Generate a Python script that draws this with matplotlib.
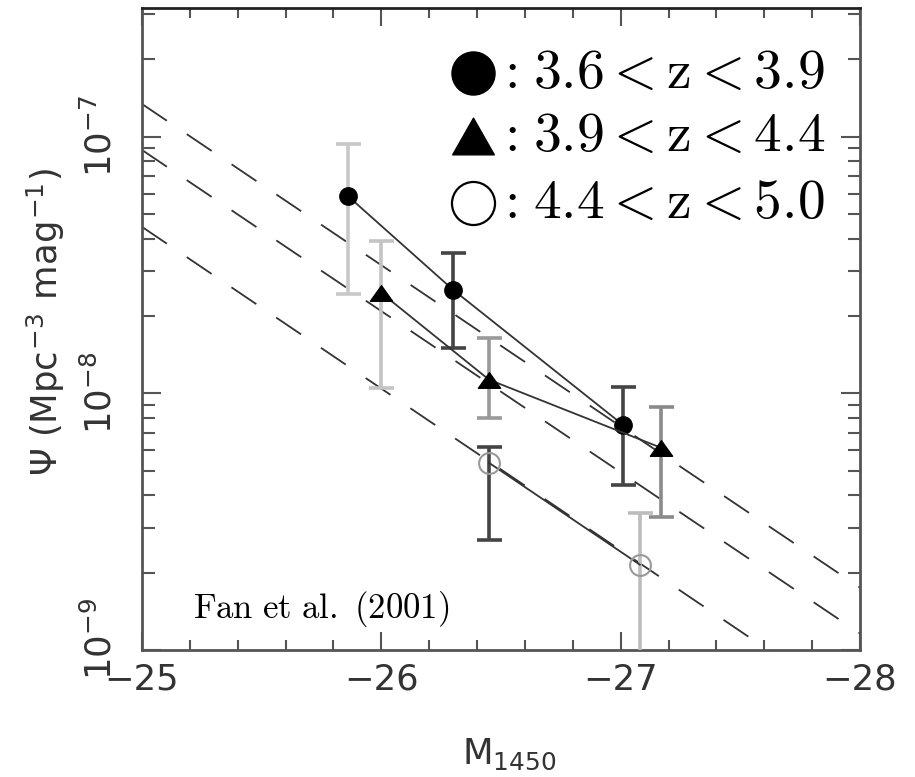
import numpy as np
import matplotlib
matplotlib.use('Agg')
import matplotlib.pyplot as plt
import matplotlib.transforms as mtransforms
from matplotlib.ticker import MultipleLocator, LogLocator, NullFormatter, FixedLocator, FixedFormatter
from matplotlib.path import Path

plt.rcParams['font.family'] = ['DejaVu Sans']
plt.rcParams['mathtext.fontset'] = 'cm'

# ---------------- data ----------------
# filled circles: 3.6 < z < 3.9
m_circ = [-25.86, -26.30, -27.01]
phi_circ = [5.87e-8, 2.53e-8, 7.53e-9]
phi_circ_hi = [9.35e-8, 3.52e-8, 1.06e-8]
phi_circ_lo = [2.44e-8, 1.50e-8, 4.40e-9]

# filled triangles: 3.9 < z < 4.4
m_tri = [-26.00, -26.45, -27.17]
phi_tri = [2.46e-8, 1.13e-8, 6.13e-9]
phi_tri_hi = [3.93e-8, 1.64e-8, 8.86e-9]
phi_tri_lo = [1.05e-8, 8.02e-9, 3.30e-9]

# open circles: 4.4 < z < 5.0
m_open = [-26.45, -27.08]
phi_open = [5.36e-9, 2.15e-9]
phi_open_hi = [6.18e-9, 3.42e-9]
phi_open_lo = [2.69e-9, 5.0e-10]

# dashed model lines (values at M = -25 and M = -28)
m_fit = [-25.0, -28.0]
fit_a = [1.34e-7, 1.75e-9]
fit_b = [8.87e-8, 1.16e-9]
fit_c = [4.45e-8, 5.73e-10]

legend_labels = [r'$3.6 < \mathrm{z} < 3.9$', r'$3.9 < \mathrm{z} < 4.4$', r'$4.4 < \mathrm{z} < 5.0$']
x_ticks = [-25, -26, -27, -28]
x_ticklabels = ['\u221225', '\u221226', '\u221227', '\u221228']
y_ticks = [1e-9, 1e-8, 1e-7]
y_ticklabels = [r'$\mathregular{10^{-9}}$', r'$\mathregular{10^{-8}}$', r'$\mathregular{10^{-7}}$']

# ---------------- figure ----------------
fig = plt.figure(figsize=(9.15, 7.77), dpi=100)
ax = fig.add_axes([142/915, 1-650/777, 718/915, 642/777])
ax.set_yscale('log')
ax.set_xlim(-25, -28)
ax.set_ylim(1e-9, 3.17e-7)

dash = (0, (16.6, 13.3))
for f in (fit_a, fit_b, fit_c):
    ax.plot(m_fit, f, color='#333333', lw=1.3, linestyle=dash, zorder=2)

def ebars(ms, ys, his, los, colors):
    for m, y, h, l, c in zip(ms, ys, his, los, colors):
        ax.errorbar([m], [y], yerr=[[y - l], [h - y]], fmt='none', ecolor=c,
                    elinewidth=2.6, capsize=9, capthick=2.6, zorder=3)

ebars(m_circ, phi_circ, phi_circ_hi, phi_circ_lo, ['#c8c8c8', '#444444', '#444444'])
ebars(m_tri, phi_tri, phi_tri_hi, phi_tri_lo, ['#c4c4c4', '#9a9a9a', '#8a8a8a'])
ebars(m_open, phi_open, phi_open_hi, phi_open_lo, ['#444444', '#bdbdbd'])

tri_marker = Path([(-1, -0.7), (1, -0.7), (0, 0.7), (-1, -0.7)],
                  [Path.MOVETO, Path.LINETO, Path.LINETO, Path.CLOSEPOLY])
ax.plot(m_circ, phi_circ, color='#333333', lw=1.3, marker='o', ms=12.5,
        mfc='black', mec='black', zorder=5)
ax.plot(m_tri, phi_tri, color='#333333', lw=1.3, marker=tri_marker, ms=16,
        mfc='black', mec='black', zorder=5)
ax.plot(m_open, phi_open, color='#333333', lw=1.3, marker='o', ms=15,
        mfc='none', mec='#999999', mew=1.5, zorder=5)

# axes styling
for s in ax.spines.values():
    s.set_color('#555555')
    s.set_linewidth(2)
ax.spines['top'].set_color('#222222')
ax.xaxis.set_major_locator(FixedLocator(x_ticks))
ax.xaxis.set_major_formatter(FixedFormatter(x_ticklabels))
ax.xaxis.set_minor_locator(MultipleLocator(0.2))
ax.yaxis.set_major_locator(FixedLocator(y_ticks))
ax.yaxis.set_major_formatter(FixedFormatter(y_ticklabels))
ax.yaxis.set_minor_locator(LogLocator(base=10, subs=np.arange(2, 10)))
ax.yaxis.set_minor_formatter(NullFormatter())
ax.tick_params(which='both', direction='in', top=True, right=True, color='#555555', width=1.5)
ax.tick_params(axis='x', which='major', length=13, labelsize=25.5, pad=9, labelcolor='#333333')
ax.tick_params(axis='x', which='minor', length=7)
ax.tick_params(axis='y', which='major', length=14, labelsize=25.5, pad=17, labelcolor='#333333',
               labelrotation=90)
ax.tick_params(axis='y', which='minor', length=9)
for lab in ax.get_yticklabels():
    lab.set_verticalalignment('center')
# nudge the bottom (10^-9) label up slightly, as in the original
bottom_lab = ax.yaxis.get_major_ticks()[0].label1
bottom_lab.set_transform(bottom_lab.get_transform() +
                         mtransforms.ScaledTranslation(0, 8/72, fig.dpi_scale_trans))

ax.set_xlabel(r'$\mathregular{M_{1450}}$', fontsize=25.5, color='#333333')
ax.xaxis.set_label_coords(0.511, -0.135)
ax.set_ylabel('\u03a8 (Mpc$^{\\mathregular{-3}}$ mag$^{\\mathregular{-1}}$)', fontsize=25.5, color='#333333')
ax.yaxis.set_label_coords(-0.1045, 0.511)

# legend drawn as text
rows = [0.898, 0.800, 0.696]
mx = 0.461
tri_big = Path([(-1, -0.88), (1, -0.88), (0, 0.88), (-1, -0.88)],
               [Path.MOVETO, Path.LINETO, Path.LINETO, Path.CLOSEPOLY])
ax.plot([mx], [rows[0]], marker='o', ms=31, mfc='black', mec='black',
        transform=ax.transAxes, clip_on=False, zorder=6)
ax.plot([mx], [rows[1]], marker=tri_big, ms=30, mfc='black', mec='black',
        transform=ax.transAxes, clip_on=False, zorder=6)
ax.plot([mx], [rows[2]], marker='o', ms=31, mfc='white', mec='black', mew=1.6,
        transform=ax.transAxes, clip_on=False, zorder=6)
for r, lab in zip(rows, legend_labels):
    ax.text(0.508, r, r'$:$', transform=ax.transAxes, fontsize=40, ha='center', va='center', zorder=6)
    ax.text(0.5446, r, lab, transform=ax.transAxes, fontsize=40, ha='left', va='center', zorder=6)

ax.text(0.071, 0.0498, r'$\mathrm{Fan\ et\ al.\ (2001)}$', transform=ax.transAxes,
        fontsize=25, ha='left', va='baseline', zorder=6)

fig.savefig('out.png', dpi=100)
